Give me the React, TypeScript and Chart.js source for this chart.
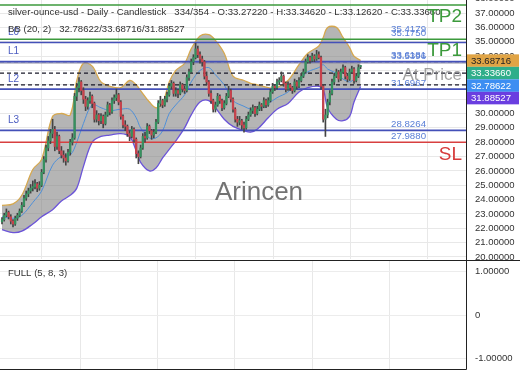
import React, { useEffect, useRef } from "react";
import { Chart, registerables } from "chart.js";
Chart.register(...registerables);

// ---------- data ----------
const OPEN = [22.45,22.6,22.9,23.1,22.8,22.5,22.3,22.7,22.9,23.2,23.6,24.1,24.4,24.6,24.8,24.9,25.1,24.8,25.0,25.9,26.8,27.6,28.1,28.6,28.9,27.7,28.4,27.4,27.1,26.9,26.7,27.3,28.0,28.3,31.2,31.8,32.2,31.6,31.0,30.5,30.9,31.2,30.7,29.6,29.9,29.5,29.8,29.3,29.9,30.6,30.1,30.9,31.1,31.3,30.8,29.8,29.2,29.1,28.6,28.4,28.9,28.2,27.2,27.0,27.6,28.4,28.3,29.1,28.8,28.5,28.7,29.4,30.7,30.9,30.6,31.0,31.3,31.9,32.1,31.4,31.6,31.4,32.0,31.7,31.6,32.5,32.9,33.6,33.9,34.5,34.1,33.8,33.6,32.6,32.2,31.4,30.9,30.3,30.6,31.2,30.9,30.4,30.7,31.2,31.6,31.0,30.3,29.6,29.4,29.5,29.2,29.0,29.6,29.9,30.2,30.4,30.0,30.3,30.6,30.5,30.9,30.6,30.9,31.5,31.9,31.8,32.2,32.3,32.6,32.1,31.7,32.0,31.8,31.6,32.2,31.9,32.3,32.6,32.9,33.6,33.9,33.7,34.0,33.8,34.1,33.9,31.9,29.6,29.9,30.8,31.4,32.2,32.6,32.9,32.4,32.9,33.2,32.6,32.4,32.9,33.1,32.3,32.6,33.2722];
const HIGH = [22.75,23.05,23.35,23.2,22.95,22.6,22.85,23.05,23.35,23.8,24.3,24.6,24.8,25.05,25.3,25.4,25.2,25.25,26.1,27.0,27.8,28.4,28.9,29.6,29.1,28.7,28.5,27.7,27.4,27.2,27.5,28.2,28.6,31.4,32.1,32.5,32.3,31.8,31.2,31.1,31.5,31.3,30.8,30.2,30.0,30.0,29.9,30.1,30.8,30.7,31.1,31.3,31.7,31.4,30.9,29.9,29.5,29.2,28.8,29.1,29.0,28.3,27.4,27.8,28.6,28.7,29.3,29.2,28.9,28.9,29.6,30.9,31.2,31.0,31.2,31.5,32.1,32.3,32.2,31.8,31.7,32.2,32.1,31.9,32.7,33.1,33.8,34.1,34.9,34.7,34.3,34.0,33.7,32.9,32.3,31.6,31.0,30.8,31.4,31.3,31.0,30.9,31.4,31.9,31.7,31.1,30.4,29.8,29.8,29.6,29.4,29.8,30.1,30.4,30.6,30.5,30.5,30.8,30.7,31.1,31.0,31.1,31.7,32.1,32.0,32.4,32.5,32.9,32.7,32.2,32.2,32.1,31.9,32.4,32.3,32.5,32.8,33.1,33.8,34.1,34.0,34.2,34.1,34.4,34.3,34.0,32.0,30.3,31.0,31.6,32.4,32.8,33.1,33.0,33.1,33.4,33.3,32.8,33.1,33.3,33.2,32.8,33.4,33.3462];
const LOW = [22.3,22.5,22.8,22.65,22.3,22.1,22.2,22.55,22.8,23.1,23.5,23.95,24.2,24.45,24.6,24.75,24.55,24.65,24.9,25.8,26.6,27.4,27.9,28.3,27.4,27.5,27.2,26.9,26.6,26.4,26.6,27.1,27.8,28.2,30.9,31.5,31.3,30.7,30.2,30.3,30.7,30.4,29.4,29.4,29.2,29.3,29.0,29.2,29.8,29.9,30.0,30.7,30.9,30.6,29.6,29.0,28.8,28.4,28.1,28.3,28.0,26.9,26.5,26.9,27.5,28.0,28.2,28.6,28.2,28.3,28.6,29.3,30.5,30.4,30.5,30.8,31.2,31.7,31.2,31.2,31.1,31.3,31.5,31.4,31.5,32.3,32.8,33.4,33.8,33.9,33.5,33.3,32.4,32.0,31.2,30.7,30.1,30.1,30.5,30.7,30.2,30.3,30.6,31.1,30.8,30.1,29.4,29.1,29.2,28.9,28.7,28.9,29.5,29.8,30.0,29.8,29.9,30.2,30.2,30.4,30.4,30.5,30.8,31.4,31.6,31.7,32.0,32.2,31.9,31.5,31.6,31.6,31.4,31.5,31.7,31.8,32.2,32.5,32.8,33.5,33.5,33.6,33.6,33.7,33.8,31.7,29.4,28.4,29.7,30.6,31.3,32.0,32.5,32.2,32.3,32.8,32.4,32.2,32.3,32.8,32.1,32.2,32.5,33.1262];
const CLOSE = [22.6,22.9,23.1,22.8,22.5,22.3,22.7,22.9,23.2,23.6,24.1,24.4,24.6,24.8,24.9,25.1,24.8,25.0,25.9,26.8,27.6,28.1,28.6,28.9,27.7,28.4,27.4,27.1,26.9,26.7,27.3,28.0,28.3,31.2,31.8,32.2,31.6,31.0,30.5,30.9,31.2,30.7,29.6,29.9,29.5,29.8,29.3,29.9,30.6,30.1,30.9,31.1,31.3,30.8,29.8,29.2,29.1,28.6,28.4,28.9,28.2,27.2,27.0,27.6,28.4,28.3,29.1,28.8,28.5,28.7,29.4,30.7,30.9,30.6,31.0,31.3,31.9,32.1,31.4,31.6,31.4,32.0,31.7,31.6,32.5,32.9,33.6,33.9,34.5,34.1,33.8,33.6,32.6,32.2,31.4,30.9,30.3,30.6,31.2,30.9,30.4,30.7,31.2,31.6,31.0,30.3,29.6,29.4,29.5,29.2,29.0,29.6,29.9,30.2,30.4,30.0,30.3,30.6,30.5,30.9,30.6,30.9,31.5,31.9,31.8,32.2,32.3,32.6,32.1,31.7,32.0,31.8,31.6,32.2,31.9,32.3,32.6,32.9,33.6,33.9,33.7,34.0,33.8,34.1,33.9,31.9,29.6,29.9,30.8,31.4,32.2,32.6,32.9,32.4,32.9,33.2,32.6,32.4,32.9,33.1,32.3,32.6,33.2,33.3366];

// Bollinger band samples (bar index -> value)
const BAND_IDX = [0,5,9,14,18,23,27,31,34,37,41,45,49,54,58,61,63,67,70,73,76,79,83,86,90,94,97,101,105,110,113,116,121,125,130,135,139,144,146,148,152,155,158,160,163];
const BB_UPPER = [23.6,23.7,24.3,26.1,26.8,29.8,30.0,29.9,32.3,33.5,33.3,32.2,31.9,31.8,32.3,32.0,31.6,30.8,30.4,30.7,32.2,33.0,33.5,34.5,35.4,35.5,35.1,34.2,32.6,32.3,32.1,32.0,31.8,31.8,32.3,33.4,34.2,34.7,35.3,36.0,36.0,35.3,34.6,34.0,33.68716];
const BB_MIDDLE = [22.8,22.7,22.9,23.8,24.6,26.4,27.0,27.1,28.0,29.3,30.6,30.4,30.2,30.3,30.3,29.7,29.0,28.3,28.3,28.8,30.0,30.6,31.3,32.2,33.0,33.2,32.7,32.0,30.9,30.5,30.3,30.3,30.7,31.1,31.5,32.3,32.9,33.2,33.4,33.1,32.8,32.4,32.2,32.4,32.78622];
const BB_LOWER = [21.9,21.7,21.8,22.3,22.8,23.3,23.9,24.3,24.8,26.3,28.0,28.4,28.5,28.6,28.4,27.4,26.6,26.0,26.2,26.9,27.5,28.1,29.0,29.9,30.8,30.9,30.4,29.6,29.1,28.8,28.7,28.9,29.7,30.3,30.7,31.5,31.8,31.9,31.7,30.4,29.6,29.5,29.8,30.8,31.88527];

// horizontal levels
const TP_NAMES = ["TP2", "TP1"];
const TP_VALUES = [37.56, 35.175];
const L_NAMES = ["L0", "L1", "L2", "L3"];
const L_VALUES = [34.95, 33.6181, 31.6967, 28.8264];
const SL_VALUE = 27.988;
const GRAY_LEVELS = [33.52];
const DASHED_LEVELS = [33.6181, 32.82, 31.99];
const PRICE_TAGS = [35.175, 35.4179, 33.6181, 33.5396, 31.6967, 28.8264, 27.988];

// axes
const Y_MIN = 19.86;
const Y_MAX = 37.91;
const Y_TICKS = [20,21,22,23,24,25,26,27,28,29,30,31,32,33,34,35,36,37,38];
const X_MIN = -0.91;
const X_MAX = 210.9;
const X_GRID = [35.5, 70.5, 105.5, 141, 176];
const OSC_MIN = -1.24;
const OSC_MAX = 1.265;
const OSC_TICKS = [-1, 0, 1];

const SANS = '"Liberation Sans", Arial, sans-serif';
const UP = "#36915f";
const DOWN = "#c8424c";

function hline(v: number, color: string, width: number, dash: number[] = []) {
  return {
    type: "line" as const,
    data: [{ x: X_MIN, y: v }, { x: X_MAX, y: v }],
    borderColor: color,
    borderWidth: width,
    borderDash: dash,
    pointRadius: 0,
    fill: false,
    order: 5,
  };
}

const mainPlugin = {
  id: "mainTexts",
  afterDraw(chart: any) {
    const { ctx, chartArea: a, scales } = chart;
    const py = (v: number) => scales.y.getPixelForValue(v);
    const n = CLOSE.length - 1;
    ctx.save();
    ctx.textBaseline = "middle";

    // watermark
    ctx.font = "26px " + SANS;
    ctx.fillStyle = "rgba(90,90,90,0.85)";
    ctx.textAlign = "center";
    ctx.fillText("Arincen", 259, 193);

    // L labels (left)
    ctx.textAlign = "left";
    ctx.font = "10px " + SANS;
    ctx.fillStyle = "#4a5bc0";
    L_NAMES.forEach((name, k) => ctx.fillText(name, 8, py(L_VALUES[k]) - 10));

    // title
    ctx.font = "9.6px " + SANS;
    ctx.fillStyle = "#333";
    ctx.fillText(
      "silver-ounce-usd - Daily - Candlestick   334/354 - O:" + OPEN[n].toFixed(5) +
        " - H:" + HIGH[n].toFixed(5) + " - L:" + LOW[n].toFixed(5) + " - C:" + CLOSE[n].toFixed(5),
      8, 12
    );
    const b = BB_MIDDLE.length - 1;
    ctx.fillText(
      "BB (20, 2)   " + BB_MIDDLE[b].toFixed(5) + "/" + BB_UPPER[b].toFixed(5) + "/" + BB_LOWER[b].toFixed(5),
      8, 29
    );

    // price tags near right
    ctx.font = "9.7px " + SANS;
    ctx.fillStyle = "#5a7fd6";
    PRICE_TAGS.forEach((v) => ctx.fillText(v.toFixed(4), 391, py(v) - 6));

    // TP / SL
    ctx.textAlign = "right";
    ctx.font = "19px " + SANS;
    ctx.fillStyle = "#3c9a3c";
    TP_NAMES.forEach((name, k) => ctx.fillText(name, a.right - 4, py(TP_VALUES[k]) + 12));
    ctx.fillStyle = "#d63a3a";
    ctx.fillText("SL", a.right - 4, py(SL_VALUE) + 12);

    // At Price
    ctx.font = "17px " + SANS;
    ctx.fillStyle = "rgba(120,120,120,0.7)";
    ctx.fillText("At Price", a.right - 4, py(CLOSE[n]) + 10);

    // right axis value boxes
    const tags = [
      { v: BB_UPPER[b], bg: "#e0a445", fg: "#222" },
      { v: CLOSE[n], bg: "#2fae8a", fg: "#fff" },
      { v: BB_MIDDLE[b], bg: "#3d8ef2", fg: "#fff" },
      { v: BB_LOWER[b], bg: "#6a3ee0", fg: "#fff" },
    ];
    let prev = -1e9;
    const h = 12.5;
    ctx.textAlign = "left";
    ctx.font = "9.6px " + SANS;
    tags.forEach((t) => {
      const c = Math.max(py(t.v), prev + h);
      prev = c;
      ctx.fillStyle = t.bg;
      ctx.fillRect(a.right + 1, c - h / 2, 520 - a.right - 2, h);
      ctx.fillStyle = t.fg;
      ctx.fillText(t.v.toFixed(5), a.right + 5, c + 0.5);
    });
    ctx.restore();
  },
};

const subPlugin = {
  id: "subFrame",
  afterDraw(chart: any) {
    const { ctx, chartArea: a } = chart;
    ctx.save();
    ctx.strokeStyle = "#222";
    ctx.lineWidth = 1;
    ctx.beginPath();
    ctx.moveTo(0, a.top + 0.5);
    ctx.lineTo(chart.width, a.top + 0.5);
    ctx.moveTo(0, a.bottom + 0.5);
    ctx.lineTo(a.right + 0.5, a.bottom + 0.5);
    ctx.moveTo(a.right + 0.5, a.top);
    ctx.lineTo(a.right + 0.5, a.bottom + 0.5);
    ctx.stroke();
    ctx.font = "9.6px " + SANS;
    ctx.fillStyle = "#333";
    ctx.textBaseline = "middle";
    ctx.fillText("FULL (5, 8, 3)", 8, a.top + 13);
    ctx.restore();
  },
};

function xScale() {
  return {
    type: "linear" as const,
    min: X_MIN,
    max: X_MAX,
    offset: false,
    afterBuildTicks: (s: any) => { s.ticks = X_GRID.map((v) => ({ value: v })); },
    afterFit: (s: any) => { s.height = 0; s.paddingLeft = 0; s.paddingRight = 0; },
    ticks: { display: false },
    grid: { color: "#e8e8e8", drawTicks: false },
    border: { display: false },
  };
}

export default function App() {
  const mainRef = useRef<HTMLCanvasElement>(null);
  const subRef = useRef<HTMLCanvasElement>(null);

  useEffect(() => {
    const colors = CLOSE.map((c, i) => (c >= OPEN[i] ? UP : DOWN));
    const main = new Chart(mainRef.current as HTMLCanvasElement, {
      type: "line",
      data: {
        datasets: [
          {
            type: "line",
            data: BAND_IDX.map((x, k) => ({ x, y: BB_UPPER[k] })),
            borderColor: "#d6a84f",
            borderWidth: 1.3,
            pointRadius: 0,
            tension: 0.35,
            fill: "+1",
            backgroundColor: "rgba(120,120,120,0.55)",
            order: 10,
          },
          {
            type: "line",
            data: BAND_IDX.map((x, k) => ({ x, y: BB_LOWER[k] })),
            borderColor: "#6b54d8",
            borderWidth: 1.3,
            pointRadius: 0,
            tension: 0.35,
            fill: false,
            order: 9,
          },
          {
            type: "line",
            data: BAND_IDX.map((x, k) => ({ x, y: BB_MIDDLE[k] })),
            borderColor: "#4e8fd8",
            borderWidth: 1,
            pointRadius: 0,
            tension: 0.35,
            fill: false,
            order: 8,
          },
          ...TP_VALUES.map((v) => hline(v, "#3c9a3c", 1.5)),
          ...L_VALUES.map((v) => hline(v, "#4450b8", 1.6)),
          ...GRAY_LEVELS.map((v) => hline(v, "#8a8aa0", 1)),
          ...DASHED_LEVELS.map((v) => hline(v, "#1a1a2a", 1.3, [4, 3])),
          hline(SL_VALUE, "#d84040", 1.5),
          {
            type: "bar",
            data: CLOSE.map((_, i) => ({ x: i, y: [LOW[i], HIGH[i]] })),
            backgroundColor: "#444",
            barThickness: 1,
            grouped: false,
            order: 2,
          } as any,
          {
            type: "bar",
            data: CLOSE.map((c, i) => ({ x: i, y: [OPEN[i], c] })),
            backgroundColor: colors,
            barThickness: 1.6,
            minBarLength: 1,
            grouped: false,
            order: 1,
          } as any,
        ],
      },
      options: {
        responsive: false,
        animation: false,
        events: [],
        layout: { padding: { left: 0, right: 0, top: 0, bottom: 2 } },
        plugins: { legend: { display: false }, tooltip: { enabled: false } },
        scales: {
          x: xScale(),
          y: {
            type: "linear",
            position: "right",
            min: Y_MIN,
            max: Y_MAX,
            afterBuildTicks: (s: any) => { s.ticks = Y_TICKS.map((v) => ({ value: v })); },
            afterFit: (s: any) => { s.width = 54; s.paddingTop = 0; s.paddingBottom = 0; },
            ticks: {
              autoSkip: false,
              padding: 9,
              color: "#333",
              font: { family: SANS, size: 9.5 },
              callback: (v: any) => Number(v).toFixed(5),
            },
            grid: { color: "#e8e8e8", drawTicks: false },
            border: { display: true, color: "#222", width: 1 },
          },
        },
      } as any,
      plugins: [mainPlugin],
    });

    const sub = new Chart(subRef.current as HTMLCanvasElement, {
      type: "line",
      data: { datasets: [{ data: [], pointRadius: 0 }] },
      options: {
        responsive: false,
        animation: false,
        events: [],
        layout: { padding: { left: 0, right: 0, top: 1, bottom: 7 } },
        plugins: { legend: { display: false }, tooltip: { enabled: false } },
        scales: {
          x: xScale(),
          y: {
            type: "linear",
            position: "right",
            min: OSC_MIN,
            max: OSC_MAX,
            afterBuildTicks: (s: any) => { s.ticks = OSC_TICKS.map((v) => ({ value: v })); },
            afterFit: (s: any) => { s.width = 54; s.paddingTop = 0; s.paddingBottom = 0; },
            ticks: {
              autoSkip: false,
              padding: 9,
              color: "#333",
              font: { family: SANS, size: 9.5 },
              callback: (v: any) => (Number(v) === 0 ? "0" : Number(v).toFixed(5)),
            },
            grid: { color: "#ececec", drawTicks: false },
            border: { display: false },
          },
        },
      } as any,
      plugins: [subPlugin],
    });

    return () => {
      main.destroy();
      sub.destroy();
    };
  }, []);

  return (
    <div style={{ position: "fixed", left: 0, top: 0, width: 520, height: 390, background: "#fff", overflow: "hidden" }}>
      <canvas ref={mainRef} width={520} height={261} style={{ position: "absolute", left: 0, top: 0 }} />
      <canvas ref={subRef} width={520} height={117} style={{ position: "absolute", left: 0, top: 259 }} />
    </div>
  );
}
